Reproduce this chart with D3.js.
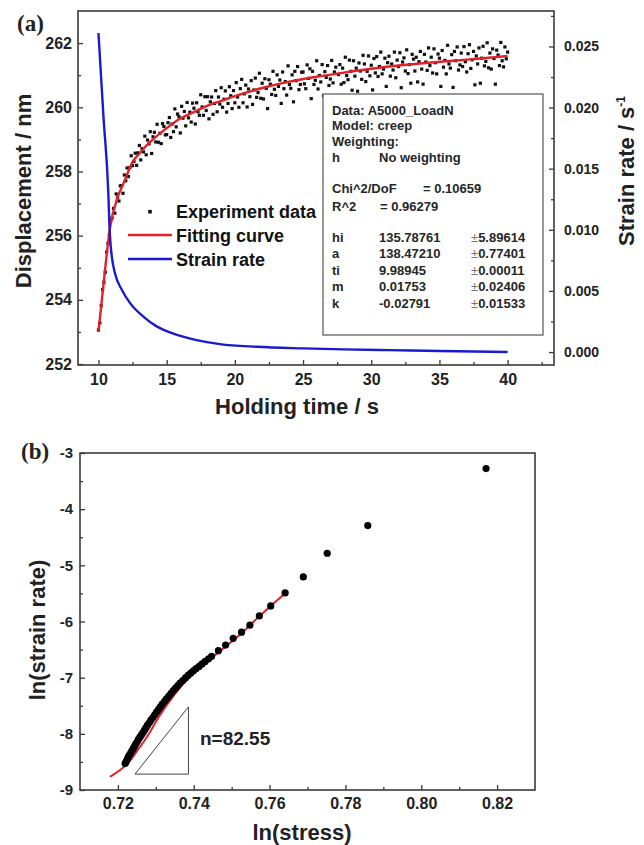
<!DOCTYPE html>
<html>
<head>
<meta charset="utf-8">
<script src="https://cdn.jsdelivr.net/npm/d3@7"></script>
<style>
  body { margin: 0; background: #fff; }
  text { font-family: "Liberation Sans", Arial, sans-serif; font-weight: bold; }
</style>
</head>
<body>
<div id="chart"></div>
<script>
var width = 644,
  height = 845;

// ---------------- panel (a) data ----------------
var expTime = [
  10.0, 10.1, 10.2, 10.3, 10.4, 10.5, 10.6, 10.7, 10.8, 10.9,
  11.0, 11.1, 11.2, 11.3, 11.4, 11.5, 11.6, 11.7, 11.8, 11.9,
  12.0, 12.1, 12.2, 12.3, 12.4, 12.5, 12.6, 12.7, 12.8, 12.9,
  13.0, 13.1, 13.2, 13.3, 13.4, 13.5, 13.6, 13.7, 13.8, 13.9,
  14.0, 14.1, 14.2, 14.3, 14.4, 14.5, 14.6, 14.7, 14.8, 14.9,
  15.0, 15.1, 15.2, 15.3, 15.4, 15.5, 15.6, 15.7, 15.8, 15.9,
  16.0, 16.1, 16.2, 16.3, 16.4, 16.5, 16.6, 16.7, 16.8, 16.9,
  17.0, 17.1, 17.2, 17.3, 17.4, 17.5, 17.6, 17.7, 17.8, 17.9,
  18.0, 18.1, 18.2, 18.3, 18.4, 18.5, 18.6, 18.7, 18.8, 18.9,
  19.0, 19.1, 19.2, 19.3, 19.4, 19.5, 19.6, 19.7, 19.8, 19.9,
  20.0, 20.1, 20.2, 20.3, 20.4, 20.5, 20.6, 20.7, 20.8, 20.9,
  21.0, 21.1, 21.2, 21.3, 21.4, 21.5, 21.6, 21.7, 21.8, 21.9,
  22.0, 22.1, 22.2, 22.3, 22.4, 22.5, 22.6, 22.7, 22.8, 22.9,
  23.0, 23.1, 23.2, 23.3, 23.4, 23.5, 23.6, 23.7, 23.8, 23.9,
  24.0, 24.1, 24.2, 24.3, 24.4, 24.5, 24.6, 24.7, 24.8, 24.9,
  25.0, 25.1, 25.2, 25.3, 25.4, 25.5, 25.6, 25.7, 25.8, 25.9,
  26.0, 26.1, 26.2, 26.3, 26.4, 26.5, 26.6, 26.7, 26.8, 26.9,
  27.0, 27.1, 27.2, 27.3, 27.4, 27.5, 27.6, 27.7, 27.8, 27.9,
  28.0, 28.1, 28.2, 28.3, 28.4, 28.5, 28.6, 28.7, 28.8, 28.9,
  29.0, 29.1, 29.2, 29.3, 29.4, 29.5, 29.6, 29.7, 29.8, 29.9,
  30.0, 30.1, 30.2, 30.3, 30.4, 30.5, 30.6, 30.7, 30.8, 30.9,
  31.0, 31.1, 31.2, 31.3, 31.4, 31.5, 31.6, 31.7, 31.8, 31.9,
  32.0, 32.1, 32.2, 32.3, 32.4, 32.5, 32.6, 32.7, 32.8, 32.9,
  33.0, 33.1, 33.2, 33.3, 33.4, 33.5, 33.6, 33.7, 33.8, 33.9,
  34.0, 34.1, 34.2, 34.3, 34.4, 34.5, 34.6, 34.7, 34.8, 34.9,
  35.0, 35.1, 35.2, 35.3, 35.4, 35.5, 35.6, 35.7, 35.8, 35.9,
  36.0, 36.1, 36.2, 36.3, 36.4, 36.5, 36.6, 36.7, 36.8, 36.9,
  37.0, 37.1, 37.2, 37.3, 37.4, 37.5, 37.6, 37.7, 37.8, 37.9,
  38.0, 38.1, 38.2, 38.3, 38.4, 38.5, 38.6, 38.7, 38.8, 38.9,
  39.0, 39.1, 39.2, 39.3, 39.4, 39.5, 39.6, 39.7, 39.8, 39.9,
  40.0
];
var expDisp = [
  253.06, 253.28, 253.82, 254.32, 254.55, 254.86, 255.49, 255.76, 256.03, 256.49,
  256.55, 256.85, 256.70, 257.30, 257.19, 257.08, 257.55, 257.56, 257.32, 257.89,
  257.71, 258.11, 257.84, 258.12, 258.49, 258.18, 258.31, 258.57, 258.19, 258.58,
  258.81, 258.36, 258.71, 258.61, 259.10, 258.52, 258.98, 258.86, 259.24, 258.56,
  259.08, 259.22, 258.92, 259.47, 258.91, 259.19, 258.87, 259.49, 259.40, 259.14,
  259.15, 259.52, 259.68, 259.06, 259.48, 259.24, 259.95, 259.39, 259.79, 259.71,
  259.20, 260.03, 259.66, 259.87, 259.42, 260.15, 259.67, 259.85, 259.54, 260.13,
  259.97, 259.48, 260.14, 259.86, 259.75, 260.39, 260.01, 259.75, 260.33, 259.90,
  260.33, 259.64, 260.17, 260.32, 259.78, 260.12, 260.52, 259.86, 260.32, 260.10,
  260.61, 260.00, 260.25, 260.51, 259.85, 260.12, 260.64, 260.36, 259.96, 260.52,
  260.14, 260.77, 260.32, 260.00, 260.58, 260.87, 260.14, 260.42, 260.69, 260.01,
  260.57, 260.33, 260.83, 260.09, 260.54, 260.91, 260.31, 260.46, 261.06, 260.28,
  260.75, 260.26, 260.89, 260.59, 259.96, 260.86, 260.72, 260.40, 261.12, 260.56,
  260.37, 261.01, 260.65, 260.85, 260.12, 261.10, 260.58, 260.80, 260.38, 261.29,
  260.71, 260.59, 261.01, 260.17, 261.12, 260.83, 261.27, 260.55, 260.71, 261.09,
  261.10, 260.73, 260.58, 261.32, 260.90, 261.20, 260.27, 261.12, 260.71, 260.84,
  261.45, 260.57, 260.99, 260.79, 261.33, 260.36, 261.11, 260.93, 261.30, 260.68,
  260.88, 261.46, 260.76, 261.10, 261.25, 260.37, 261.02, 261.33, 260.72, 261.22,
  260.77, 261.56, 260.99, 260.86, 261.47, 261.12, 260.53, 261.45, 260.97, 261.22,
  260.50, 261.38, 261.13, 260.87, 261.62, 261.35, 260.80, 261.12, 261.60, 260.98,
  261.31, 260.54, 261.52, 261.07, 261.58, 260.96, 261.27, 261.72, 261.04, 261.19,
  261.53, 260.65, 261.39, 261.59, 260.97, 261.35, 261.16, 261.72, 260.92, 261.47,
  261.27, 261.70, 260.61, 261.41, 261.54, 261.13, 261.79, 261.05, 261.33, 260.75,
  261.65, 261.50, 261.13, 261.56, 260.79, 261.42, 261.74, 261.19, 260.72, 261.65,
  261.41, 261.15, 261.85, 261.30, 261.56, 261.07, 261.82, 261.39, 261.04, 261.66,
  261.53, 260.65, 261.77, 261.25, 261.46, 261.04, 261.93, 261.35, 261.22, 261.64,
  260.62, 261.74, 261.45, 261.88, 261.16, 261.32, 261.69, 261.27, 261.89, 261.42,
  261.10, 261.67, 261.95, 261.21, 261.48, 261.74, 260.70, 261.60, 261.35, 261.85,
  260.75, 261.53, 261.90, 261.29, 261.43, 262.01, 261.23, 261.69, 261.19, 261.82,
  261.52, 260.72, 261.78, 261.63, 261.30, 262.02, 261.45, 261.26, 261.88, 261.51,
  261.72
];

var fitTime = [10.0, 10.2, 10.4, 10.6, 10.8, 11.0, 11.2, 11.4, 11.6, 12.0, 12.5, 13.0, 13.5, 14.0,
  15.0, 16.0, 17.0, 18.0, 19.0, 20.0, 22.0, 24.0, 26.0, 28.0, 30.0, 32.0, 34.0, 36.0, 38.0, 40.0];
var fitDisp = [253.0, 253.8, 254.6, 255.4, 256.1, 256.6, 256.9, 257.2, 257.4, 257.8, 258.3, 258.55, 258.8, 259.0,
  259.35, 259.65, 259.85, 260.05, 260.2, 260.35, 260.6, 260.8, 260.95, 261.08, 261.2, 261.3, 261.38, 261.45, 261.52, 261.6];

var rateTime = [10.0, 10.37, 10.73, 10.80, 10.86, 10.98, 11.22, 11.71, 12.32, 13.29, 14.27, 15.49,
  17.2, 18.9, 21.6, 25.0, 28.0, 31.3, 35.0, 40.0];
var rateValue = [0.0261, 0.0192, 0.0128, 0.0105, 0.0092, 0.0078, 0.0064, 0.0051, 0.0040, 0.0029, 0.0021, 0.0015,
  0.00098, 0.00065, 0.00043, 0.00030, 0.00022, 0.00016, 0.00008, 0.00000];

var timeTicks = [10, 15, 20, 25, 30, 35, 40];
var timeMinor = [12.5, 17.5, 22.5, 27.5, 32.5, 37.5, 42.5];
var dispTicks = [252, 254, 256, 258, 260, 262];
var dispMinor = [253, 255, 257, 259, 261];
var rateTicks = [0, 0.005, 0.010, 0.015, 0.020, 0.025];
var rateMinor = [0.0025, 0.0075, 0.0125, 0.0175, 0.0225, 0.0275];

var legendLabels = ["Experiment data", "Fitting curve", "Strain rate"];

var infoHead = ["Data: A5000_LoadN", "Model: creep", "Weighting:"];
var infoWeight = ["h", "No weighting"];
var infoChi = ["Chi^2/DoF", "= 0.10659"];
var infoR2 = ["R^2", "=  0.96279"];
var paramNames = ["hi", "a", "ti", "m", "k"];
var paramValues = ["135.78761", "138.47210", "9.98945", "0.01753", "-0.02791"];
var paramErrors = ["5.89614", "0.77401", "0.00011", "0.02406", "0.01533"];

// ---------------- panel (b) data ----------------
var lnStress = [0.8171, 0.7859, 0.7752, 0.7689, 0.7641, 0.7603, 0.7573, 0.7548, 0.7526, 0.7504,
  0.7484, 0.7465, 0.7447, 0.7439, 0.7430, 0.7422, 0.7414, 0.7406, 0.7399, 0.7392,
  0.7385, 0.7378, 0.7371, 0.7364, 0.7358, 0.7352, 0.7346, 0.7340, 0.7334, 0.7328,
  0.7323, 0.7317, 0.7312, 0.7307, 0.7302, 0.7297, 0.7292, 0.7287, 0.7283, 0.7278,
  0.7274, 0.7270, 0.7266, 0.7262, 0.7258, 0.7254, 0.7251, 0.7247, 0.7244, 0.7241,
  0.7238, 0.7235, 0.7232, 0.7229, 0.7227, 0.7225, 0.7223, 0.7221, 0.7219];
var lnRate = [-3.278, -4.292, -4.785, -5.206, -5.491, -5.722, -5.900, -6.066, -6.190, -6.30,
  -6.42, -6.52, -6.62, -6.665, -6.71, -6.755, -6.80, -6.84, -6.88, -6.92,
  -6.96, -7.005, -7.05, -7.095, -7.14, -7.185, -7.23, -7.28, -7.33, -7.375,
  -7.42, -7.47, -7.52, -7.565, -7.61, -7.66, -7.71, -7.755, -7.80, -7.845,
  -7.89, -7.935, -7.98, -8.02, -8.06, -8.10, -8.14, -8.18, -8.22, -8.255,
  -8.29, -8.325, -8.36, -8.39, -8.42, -8.45, -8.48, -8.505, -8.53];

var fitStress = [0.7179, 0.7229, 0.7251, 0.7276, 0.7307, 0.7346, 0.7393, 0.7452, 0.7529, 0.7574, 0.7642];
var fitRate = [-8.765, -8.50, -8.30, -8.06, -7.71, -7.33, -6.96, -6.62, -6.19, -5.90, -5.49];

var triStress = [0.7245, 0.7386, 0.7386, 0.7245];
var triRate = [-8.717, -8.717, -7.52, -8.717];
var slopeLabel = "n=82.55";

var stressTicks = [0.72, 0.74, 0.76, 0.78, 0.80, 0.82];
var stressMinor = [0.73, 0.75, 0.77, 0.79, 0.81];
var lnRateTicks = [-9, -8, -7, -6, -5, -4, -3];
var lnRateMinor = [-8.5, -7.5, -6.5, -5.5, -4.5, -3.5];

// ---------------- setup ----------------
var svg = d3.select("#chart")
  .append("svg")
  .attr("width", width)
  .attr("height", height)
  .style("background", "#fff");

var ink = "#222";
var frameColor = "#3a3a3a";
var redColor = "#e3202a";
var blueColor = "#1a1ad2";

function styleAxis(g, size) {
  g.select(".domain").remove();
  g.attr("font-family", '"Liberation Sans", Arial, sans-serif')
    .attr("font-size", size);
  g.selectAll(".tick line").attr("stroke", frameColor).attr("stroke-width", 1.3);
  g.selectAll(".tick text").attr("fill", ink).style("font-weight", "bold");
}

///////////////////////////// panel (a) /////////////////////////////
var xA = d3.scaleLinear().domain([8.5, 43.4]).range([78, 554]);
var yA = d3.scaleLinear().domain([251.97, 263]).range([365, 11]);
var yR = d3.scaleLinear().domain([-0.00106, 0.0279]).range([365, 11]);

var gA = svg.append("g");

// experiment points
gA.selectAll("rect.exp")
  .data(expDisp)
  .enter().append("rect")
  .attr("class", "exp")
  .attr("x", function(d, i) { return xA(expTime[i]) - 1.6; })
  .attr("y", function(d) { return yA(d) - 1.6; })
  .attr("width", 3.2)
  .attr("height", 3.2)
  .attr("fill", "#111");

// info box (covers points behind it)
var box = gA.append("g").attr("transform", "translate(323,94)");
box.append("rect")
  .attr("width", 220).attr("height", 241)
  .attr("fill", "#fff")
  .attr("stroke", "#555")
  .attr("stroke-width", 1.2);

var boxText = box.append("g").attr("fill", "#262626")
  .style("font-size", "13px").style("font-weight", "bold");
infoHead.forEach(function(s, i) {
  boxText.append("text").attr("x", 9).attr("y", 20.5 + i * 15.8).text(s);
});
boxText.append("text").attr("x", 9).attr("y", 68).text(infoWeight[0]);
boxText.append("text").attr("x", 56).attr("y", 68).text(infoWeight[1]);
boxText.append("text").attr("x", 9).attr("y", 99).text(infoChi[0]);
boxText.append("text").attr("x", 100).attr("y", 99).text(infoChi[1]);
boxText.append("text").attr("x", 9).attr("y", 116.5).text(infoR2[0]);
boxText.append("text").attr("x", 57).attr("y", 116.5).text(infoR2[1]);
paramNames.forEach(function(s, i) {
  var yy = 147.5 + i * 16.6;
  boxText.append("text").attr("x", 9).attr("y", yy).text(s);
  boxText.append("text").attr("x", 56).attr("y", yy).text(paramValues[i]);
  var t = boxText.append("text").attr("x", 148).attr("y", yy);
  t.append("tspan").attr("fill", "#777").style("font-weight", "normal").text("\u00b1");
  t.append("tspan").text(paramErrors[i]);
});

// fitting curve and strain rate
gA.append("path")
  .datum(fitTime)
  .attr("fill", "none")
  .attr("stroke", redColor)
  .attr("stroke-width", 2.4)
  .attr("d", d3.line()
    .x(function(d) { return xA(d); })
    .y(function(d, i) { return yA(fitDisp[i]); })
    .curve(d3.curveMonotoneX));

gA.append("path")
  .datum(rateTime)
  .attr("fill", "none")
  .attr("stroke", blueColor)
  .attr("stroke-width", 2.4)
  .attr("d", d3.line()
    .x(function(d) { return xA(d); })
    .y(function(d, i) { return yR(rateValue[i]); })
    .curve(d3.curveMonotoneX));

// axes, ticks inside
gA.append("g").attr("transform", "translate(0,365)")
  .call(d3.axisBottom(xA).tickValues(timeTicks).tickSize(-5).tickPadding(9).tickFormat(d3.format("d")))
  .call(styleAxis, 16);
gA.append("g").attr("transform", "translate(0,365)")
  .call(d3.axisBottom(xA).tickValues(timeMinor).tickSize(-3).tickFormat(""))
  .call(styleAxis, 16);
gA.append("g").attr("transform", "translate(78,0)")
  .call(d3.axisLeft(yA).tickValues(dispTicks).tickSize(-5).tickPadding(6).tickFormat(d3.format("d")))
  .call(styleAxis, 16);
gA.append("g").attr("transform", "translate(78,0)")
  .call(d3.axisLeft(yA).tickValues(dispMinor).tickSize(-3).tickFormat(""))
  .call(styleAxis, 16);
gA.append("g").attr("transform", "translate(554,0)")
  .call(d3.axisRight(yR).tickValues(rateTicks).tickSize(-5).tickPadding(10).tickFormat(d3.format(".3f")))
  .call(styleAxis, 14);
gA.append("g").attr("transform", "translate(554,0)")
  .call(d3.axisRight(yR).tickValues(rateMinor).tickSize(-3).tickFormat(""))
  .call(styleAxis, 14);

gA.append("rect")
  .attr("x", 78).attr("y", 11)
  .attr("width", 554 - 78).attr("height", 365 - 11)
  .attr("fill", "none")
  .attr("stroke", frameColor)
  .attr("stroke-width", 1.6);

// legend
var leg = gA.append("g").style("font-size", "18px").attr("fill", "#111");
leg.append("rect").attr("x", 148.2).attr("y", 209.9).attr("width", 3.6).attr("height", 3.6).attr("fill", "#111");
leg.append("line").attr("x1", 128).attr("x2", 172).attr("y1", 235).attr("y2", 235)
  .attr("stroke", redColor).attr("stroke-width", 2.4);
leg.append("line").attr("x1", 128).attr("x2", 172).attr("y1", 259).attr("y2", 259)
  .attr("stroke", blueColor).attr("stroke-width", 2.4);
legendLabels.forEach(function(s, i) {
  leg.append("text").attr("x", 176).attr("y", 218 + i * 24).text(s);
});

// titles
svg.append("text")
  .attr("x", 17).attr("y", 31)
  .style("font-family", '"Liberation Serif", "Times New Roman", serif')
  .style("font-size", "23px")
  .attr("fill", ink)
  .text("(a)");

svg.append("text")
  .attr("transform", "translate(31,191) rotate(-90)")
  .attr("text-anchor", "middle")
  .style("font-size", "22px")
  .attr("fill", ink)
  .text("Displacement / nm");

svg.append("text")
  .attr("x", 297).attr("y", 414)
  .attr("text-anchor", "middle")
  .style("font-size", "22px")
  .attr("fill", ink)
  .text("Holding time / s");

var rLab = svg.append("text")
  .attr("transform", "translate(634,171) rotate(-90)")
  .attr("text-anchor", "middle")
  .style("font-size", "22px")
  .attr("fill", ink);
rLab.append("tspan").text("Strain rate / s");
rLab.append("tspan").attr("dy", -9).style("font-size", "12px").text("-1");

///////////////////////////// panel (b) /////////////////////////////
var xB = d3.scaleLinear().domain([0.71, 0.83]).range([80, 535]);
var yB = d3.scaleLinear().domain([-9, -3]).range([790, 453]);

var gB = svg.append("g");

gB.append("path")
  .datum(fitStress)
  .attr("fill", "none")
  .attr("stroke", redColor)
  .attr("stroke-width", 2)
  .attr("d", d3.line()
    .x(function(d) { return xB(d); })
    .y(function(d, i) { return yB(fitRate[i]); })
    .curve(d3.curveMonotoneX));

gB.selectAll("circle.pt")
  .data(lnStress)
  .enter().append("circle")
  .attr("class", "pt")
  .attr("cx", function(d) { return xB(d); })
  .attr("cy", function(d, i) { return yB(lnRate[i]); })
  .attr("r", 3.6)
  .attr("fill", "#000");

gB.append("path")
  .datum(triStress)
  .attr("fill", "none")
  .attr("stroke", "#444")
  .attr("stroke-width", 1)
  .attr("d", d3.line()
    .x(function(d) { return xB(d); })
    .y(function(d, i) { return yB(triRate[i]); }));

gB.append("text")
  .attr("x", 200).attr("y", 745)
  .style("font-size", "19px")
  .attr("fill", ink)
  .text(slopeLabel);

gB.append("g").attr("transform", "translate(0,790)")
  .call(d3.axisBottom(xB).tickValues(stressTicks).tickSize(-5).tickPadding(8).tickFormat(d3.format(".2f")))
  .call(styleAxis, 16);
gB.append("g").attr("transform", "translate(0,790)")
  .call(d3.axisBottom(xB).tickValues(stressMinor).tickSize(-3).tickFormat(""))
  .call(styleAxis, 16);
gB.append("g").attr("transform", "translate(80,0)")
  .call(d3.axisLeft(yB).tickValues(lnRateTicks).tickSize(-5).tickPadding(7).tickFormat(function(d) { return String(d); }))
  .call(styleAxis, 15);
gB.append("g").attr("transform", "translate(80,0)")
  .call(d3.axisLeft(yB).tickValues(lnRateMinor).tickSize(-3).tickFormat(""))
  .call(styleAxis, 15);

gB.append("rect")
  .attr("x", 80).attr("y", 453)
  .attr("width", 535 - 80).attr("height", 790 - 453)
  .attr("fill", "none")
  .attr("stroke", frameColor)
  .attr("stroke-width", 1.6);

svg.append("text")
  .attr("x", 21).attr("y", 459)
  .style("font-family", '"Liberation Serif", "Times New Roman", serif')
  .style("font-size", "23px")
  .attr("fill", ink)
  .text("(b)");

svg.append("text")
  .attr("transform", "translate(45,630) rotate(-90)")
  .attr("text-anchor", "middle")
  .style("font-size", "22px")
  .attr("fill", ink)
  .text("ln(strain rate)");

svg.append("text")
  .attr("x", 302).attr("y", 840)
  .attr("text-anchor", "middle")
  .style("font-size", "22px")
  .attr("fill", ink)
  .text("ln(stress)");
</script>
</body>
</html>
